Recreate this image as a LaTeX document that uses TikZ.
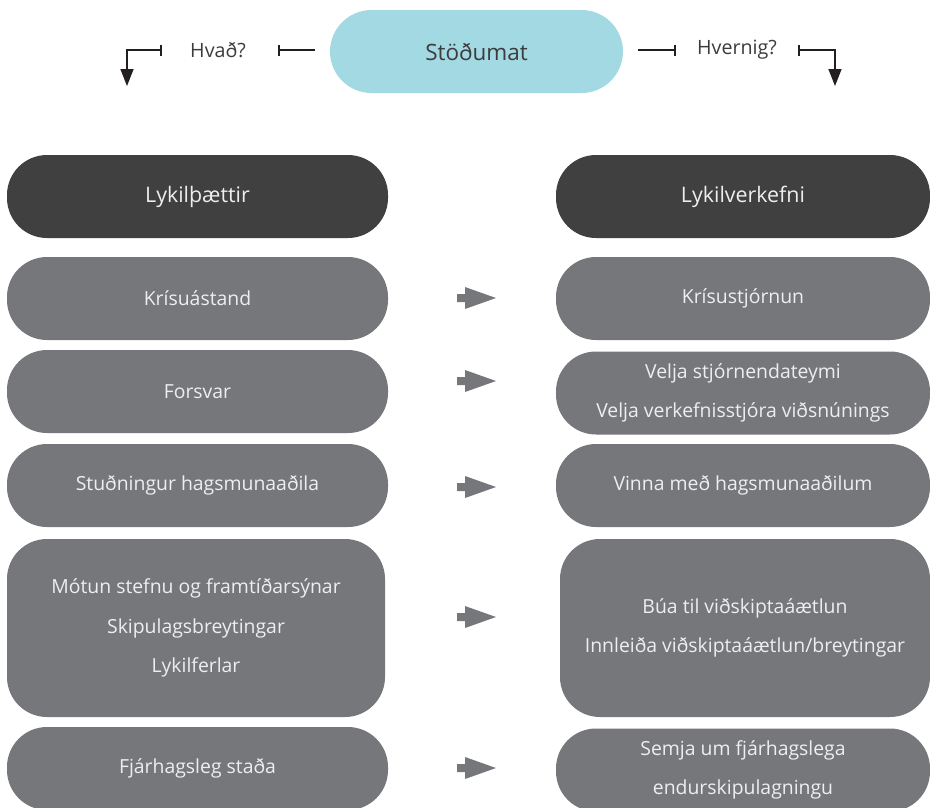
\documentclass[tikz,border=0pt]{standalone}
\usepackage{fontspec}
\setmainfont{Open Sans}
\usetikzlibrary{arrows.meta}
\definecolor{skyb}{HTML}{A3D9E3}
\definecolor{darkb}{HTML}{404040}
\definecolor{grayb}{HTML}{76777B}
\definecolor{boxtxt}{HTML}{EEEEEE}
\definecolor{toptxt}{HTML}{3C3C3C}
\definecolor{linec}{HTML}{231F20}
\tikzset{
  pill/.style={rectangle, rounded corners=40pt, inner sep=0pt, align=center,
    text=boxtxt, font=\fontsize{19.4pt}{39.5pt}\selectfont},
  headbox/.style={pill, fill=darkb, font=\fontsize{21.4pt}{39pt}\selectfont},
  graybox/.style={pill, fill=grayb},
  toplabel/.style={text=toptxt, font=\fontsize{19.7pt}{23pt}\selectfont, inner sep=0pt},
  conn/.style={draw=linec, line width=1.6pt},
  garrowsty/.style={fill=grayb, draw=none}
}
\begin{document}
\begin{tikzpicture}[x=1pt,y=-1pt]
\useasboundingbox (0,0) rectangle (930,807);
% top
\node[rectangle, rounded corners=41.5pt, fill=skyb, minimum width=293pt, minimum height=83pt,
  text=toptxt, font=\fontsize{22.5pt}{26pt}\selectfont] (s) at (476.5,51.5) {Stöðumat};
\node[toplabel] (hvad) at (218,50) {Hvað?};
\node[toplabel] (hvernig) at (737,50) {Hvernig?};
\coordinate (sl) at (315,50);
\coordinate (slb) at (278,50);
\coordinate (hl) at (162,50);
\coordinate (hld) at (127,86);
\coordinate (sr) at (638,50);
\coordinate (srb) at (676,50);
\coordinate (hr) at (798,50);
\coordinate (hrd) at (835,86);
\draw[conn, -{Bar[width=11pt,line width=1.6pt]}] (sl) -- (slb);
\draw[conn, {Bar[width=11pt,line width=1.6pt]}-{Triangle[length=17pt,width=13pt]}] (hl) -| (hld);
\draw[conn, -{Bar[width=11pt,line width=1.6pt]}] (sr) -- (srb);
\draw[conn, {Bar[width=11pt,line width=1.6pt]}-{Triangle[length=17pt,width=13pt]}] (hr) -| (hrd);
% headers
\node[headbox, minimum width=381pt, minimum height=83pt] (lh) at (197.5,196.5) {Lykilþættir};
\node[headbox, minimum width=374pt, minimum height=83pt] (rh) at (743,196.5) {Lykilverkefni};
% rows left
\node[graybox, minimum width=381pt, minimum height=83pt] (l1) at (197.5,298.5) {Krísuástand};
\node[graybox, minimum width=381pt, minimum height=83pt] (l2) at (197.5,391.5) {Forsvar};
\node[graybox, minimum width=381pt, minimum height=83pt] (l3) at (197.5,485.5) {Stuðningur hagsmunaaðila};
\node[graybox, minimum width=378pt, minimum height=178pt] (l4) at (196,628) {Mótun stefnu og framtíðarsýnar\\Skipulagsbreytingar\\Lykilferlar};
\node[graybox, minimum width=381pt, minimum height=83pt] (l5) at (197.5,768.5) {Fjárhagsleg staða};
% rows right
\node[graybox, minimum width=374pt, minimum height=83pt] (r1) at (743,298.5) {Krísustjórnun};
\node[graybox, minimum width=374pt, minimum height=83pt] (r2) at (743,393) {Velja stjórnendateymi\\Velja verkefnisstjóra viðsnúnings};
\node[graybox, minimum width=374pt, minimum height=83pt] (r3) at (743,485.5) {Vinna með hagsmunaaðilum};
\node[graybox, minimum width=370pt, minimum height=178pt] (r4) at (745,628) {Búa til viðskiptaáætlun\\Innleiða viðskiptaáætlun/breytingar};
\node[graybox, minimum width=374pt, minimum height=83pt] (r5) at (743,770) {Semja um fjárhagslega\\endurskipulagningu};
% gray arrows
\foreach \yy in {298,381,487,617,768}{
  \fill[garrowsty] (457,\yy-4) -- (465,\yy-4) -- (465,\yy-11) -- (496,\yy) -- (465,\yy+11) -- (465,\yy+4) -- (457,\yy+4) -- cycle;
}
\end{tikzpicture}
\end{document}
